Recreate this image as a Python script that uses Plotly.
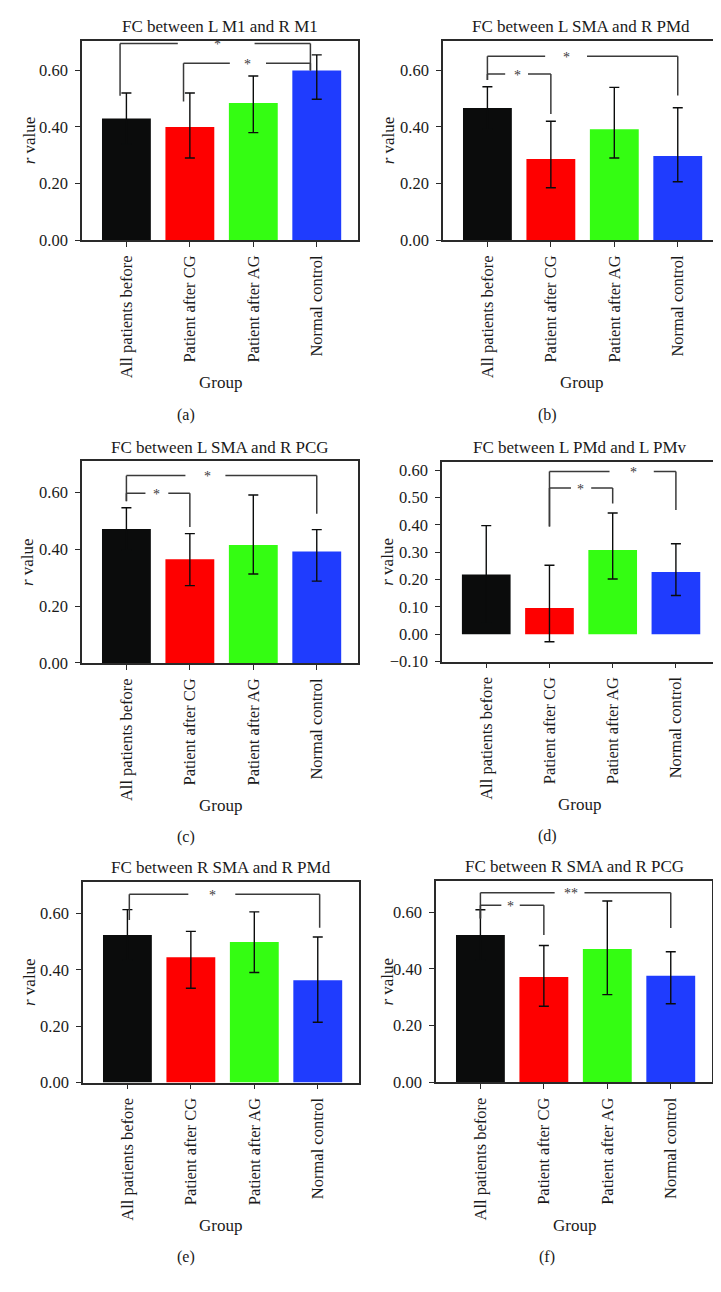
import plotly.graph_objects as go

# ---------------- data ----------------
CATEGORIES = ["All patients before", "Patient after CG", "Patient after AG", "Normal control"]
BAR_COLORS = ["#0b0c0c", "#fe0000", "#34fd12", "#1f3cfe"]

TITLES = ["FC between L M1 and R M1", "FC between L SMA and R PMd",
          "FC between L SMA and R PCG", "FC between L PMd and L PMv",
          "FC between R SMA and R PMd", "FC between R SMA and R PCG"]
LETTERS = ["(a)", "(b)", "(c)", "(d)", "(e)", "(f)"]

MEAN_A = [0.430, 0.400, 0.485, 0.600]
UPPER_A = [0.520, 0.520, 0.580, 0.655]
LOWER_A = [0.340, 0.290, 0.380, 0.498]

MEAN_B = [0.467, 0.287, 0.392, 0.297]
UPPER_B = [0.542, 0.420, 0.540, 0.468]
LOWER_B = [0.392, 0.185, 0.290, 0.206]

MEAN_C = [0.471, 0.365, 0.415, 0.392]
UPPER_C = [0.546, 0.455, 0.591, 0.469]
LOWER_C = [0.396, 0.272, 0.313, 0.288]

MEAN_D = [0.218, 0.096, 0.308, 0.228]
UPPER_D = [0.397, 0.252, 0.443, 0.331]
LOWER_D = [0.040, -0.027, 0.202, 0.142]

MEAN_E = [0.524, 0.445, 0.499, 0.363]
UPPER_E = [0.614, 0.537, 0.606, 0.517]
LOWER_E = [0.434, 0.335, 0.391, 0.214]

MEAN_F = [0.519, 0.371, 0.470, 0.375]
UPPER_F = [0.608, 0.482, 0.639, 0.460]
LOWER_F = [0.430, 0.268, 0.309, 0.277]

# significance brackets: (left group, right group, top y, left leg end y, right leg end y, label)
SIG_A = [(0, 3, 0.695, 0.510, 0.600, "*"), (1, 3, 0.625, 0.490, 0.600, "*")]
SIG_B = [(0, 3, 0.650, 0.566, 0.511, "*"), (0, 1, 0.587, 0.566, 0.446, "*")]
SIG_C = [(0, 3, 0.659, 0.569, 0.525, "*"), (0, 1, 0.597, 0.569, 0.478, "*")]
SIG_D = [(1, 3, 0.595, 0.394, 0.454, "*"), (1, 2, 0.534, 0.394, 0.478, "*")]
SIG_E = [(0, 3, 0.669, 0.577, 0.550, "*")]
SIG_F = [(0, 3, 0.668, 0.577, 0.544, "**"), (0, 1, 0.624, 0.577, 0.519, "*")]

# label x position and gap in the bracket line (category units)
SIG_LABEL_X_A = [1.44, 1.91]
SIG_GAP_A = [(0.81, 2.02), (1.63, 2.20)]
SIG_LABEL_X_B = [1.24, 0.48]
SIG_GAP_B = [(0.91, 1.57), (0.28, 0.64)]
SIG_LABEL_X_C = [1.28, 0.47]
SIG_GAP_C = [(0.93, 1.56), (0.30, 0.66)]
SIG_LABEL_X_D = [2.33, 1.49]
SIG_GAP_D = [(1.95, 2.65), (1.34, 1.66)]
SIG_LABEL_X_E = [1.34]
SIG_GAP_E = [(0.96, 1.70)]
SIG_LABEL_X_F = [1.43, 0.47]
SIG_GAP_F = [(1.17, 1.64), (0.33, 0.62)]

Y_TICKS_MAIN = [0.0, 0.2, 0.4, 0.6]
Y_TICKS_D = [-0.1, 0.0, 0.1, 0.2, 0.3, 0.4, 0.5, 0.6]

PANELS = [
    (MEAN_A, UPPER_A, LOWER_A, SIG_A, SIG_LABEL_X_A, SIG_GAP_A, Y_TICKS_MAIN, (0, 0.705)),
    (MEAN_B, UPPER_B, LOWER_B, SIG_B, SIG_LABEL_X_B, SIG_GAP_B, Y_TICKS_MAIN, (0, 0.705)),
    (MEAN_C, UPPER_C, LOWER_C, SIG_C, SIG_LABEL_X_C, SIG_GAP_C, Y_TICKS_MAIN, (0, 0.71)),
    (MEAN_D, UPPER_D, LOWER_D, SIG_D, SIG_LABEL_X_D, SIG_GAP_D, Y_TICKS_D, (-0.10, 0.63)),
    (MEAN_E, UPPER_E, LOWER_E, SIG_E, SIG_LABEL_X_E, SIG_GAP_E, Y_TICKS_MAIN, (0, 0.714)),
    (MEAN_F, UPPER_F, LOWER_F, SIG_F, SIG_LABEL_X_F, SIG_GAP_F, Y_TICKS_MAIN, (0, 0.71)),
]

# ---------------- layout / style ----------------
W, H = 721, 1292
X_DOM_PX = [(74, 350), (435, 711), (74, 350), (434, 709), (75, 351), (428, 704)]
Y_DOM_PX = [(32, 233), (32, 233), (456, 659.6), (456.7, 658.3), (880, 1082.8), (879.3, 1082.5)]
LEG_SHIFT = [-0.1, 0, 0, 0, 0.03, 0]
YTITLE_X = [21, 380, 19, 380, 21, 380]
LETTER_X = [178, 539, 178, 539, 178, 539]
X_RANGE = [-0.70, 3.65]

FONT = "Liberation Serif, Times New Roman, serif"
TXT = "#1a1a1a"
LINE = "#2a2a2a"
BRK = "#3a3a3a"
ERR = "#0b0c0c"


def px_x(p):
    return p / W


def px_y(p):
    return 1 - p / H


fig = go.Figure()
shapes = []
annotations = []
layout = {}

for k, (mean, upper, lower, sig, sig_lx, sig_gap, yticks, yrange) in enumerate(PANELS):
    n = k + 1
    xa = "x" if n == 1 else f"x{n}"
    ya = "y" if n == 1 else f"y{n}"
    xkey = "xaxis" if n == 1 else f"xaxis{n}"
    ykey = "yaxis" if n == 1 else f"yaxis{n}"
    xs = list(range(len(CATEGORIES)))
    fig.add_trace(go.Bar(
        x=xs, y=mean, width=0.77, marker=dict(color=BAR_COLORS, line=dict(width=0)),
        error_y=dict(type="data", symmetric=False,
                     array=[u - m for u, m in zip(upper, mean)],
                     arrayminus=[m - l for m, l in zip(mean, lower)],
                     color=ERR, thickness=1.4, width=5),
        xaxis=xa, yaxis=ya, showlegend=False, hoverinfo="skip"))

    x0, x1 = X_DOM_PX[k]
    yt, yb = Y_DOM_PX[k]
    layout[xkey] = dict(
        domain=[px_x(x0), px_x(x1)], range=X_RANGE, anchor=ya,
        tickmode="array", tickvals=xs, ticktext=CATEGORIES, tickangle=-90,
        ticks="outside", ticklen=5, tickwidth=1.3, tickcolor=LINE,
        showline=True, linecolor=LINE, linewidth=1.5, mirror=True,
        showgrid=False, zeroline=False, ticklabelstandoff=2,
        tickfont=dict(family=FONT, size=16.5, color=TXT))
    layout[ykey] = dict(
        domain=[px_y(yb), px_y(yt)], range=list(yrange), anchor=xa,
        tickmode="array", tickvals=yticks, tickformat=".2f",
        ticks="outside", ticklen=5, tickwidth=1.3, tickcolor=LINE,
        showline=True, linecolor=LINE, linewidth=1.5, mirror=True,
        showgrid=False, zeroline=False, ticklabelstandoff=4,
        tickfont=dict(family=FONT, size=16.5, color=TXT))

    # brackets
    for b, (gl, gr, ytop, yl, yr, lab) in enumerate(sig):
        xl = gl + LEG_SHIFT[k]
        xr = gr + LEG_SHIFT[k]
        g0, g1 = sig_gap[b]
        segs = [(xl, yl, xl, ytop), (xl, ytop, g0, ytop), (g1, ytop, xr, ytop), (xr, ytop, xr, yr)]
        for (a0, b0, a1, b1) in segs:
            shapes.append(dict(type="line", xref=xa, yref=ya, x0=a0, y0=b0, x1=a1, y1=b1,
                               line=dict(color=BRK, width=1.5)))
        annotations.append(dict(xref=xa, yref=ya, x=sig_lx[b], y=ytop, text=lab, showarrow=False,
                                xanchor="center", yanchor="middle", yshift=-1,
                                font=dict(family=FONT, size=14, color=BRK)))

    cx = (x0 + x1) / 2
    annotations.append(dict(xref="paper", yref="paper", x=px_x(cx), y=px_y(yt - 14),
                            text=TITLES[k], showarrow=False, xanchor="center", yanchor="middle",
                            font=dict(family=FONT, size=17, color=TXT)))
    annotations.append(dict(xref="paper", yref="paper", x=px_x(YTITLE_X[k]), y=px_y((yt + yb) / 2),
                            text="<i>r</i> value", showarrow=False, textangle=-90,
                            xanchor="center", yanchor="middle",
                            font=dict(family=FONT, size=17, color=TXT)))
    annotations.append(dict(xref="paper", yref="paper", x=px_x(cx), y=px_y(yb + 144),
                            text="Group", showarrow=False, xanchor="center", yanchor="middle",
                            font=dict(family=FONT, size=17, color=TXT)))
    annotations.append(dict(xref="paper", yref="paper", x=px_x(LETTER_X[k]), y=px_y(yb + 176),
                            text=LETTERS[k], showarrow=False, xanchor="center", yanchor="middle",
                            font=dict(family=FONT, size=16, color=TXT)))

fig.update_layout(
    width=W, height=H, margin=dict(l=0, r=0, t=0, b=0),
    paper_bgcolor="white", plot_bgcolor="white",
    bargap=0.2, shapes=shapes, annotations=annotations, **layout)

fig.write_html("out.html")
